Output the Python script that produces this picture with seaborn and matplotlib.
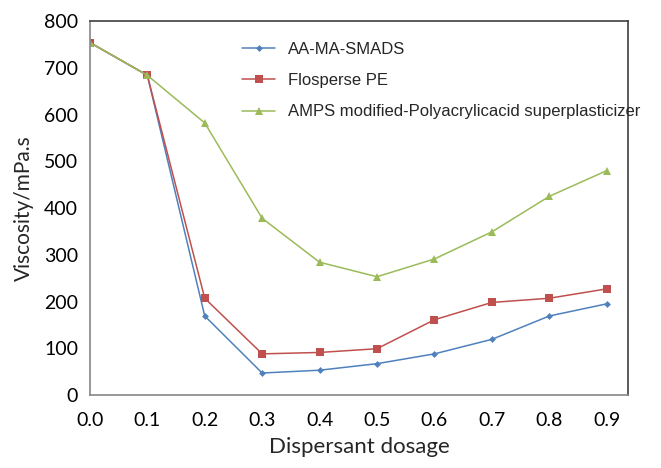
import matplotlib
matplotlib.use("Agg")
import matplotlib.pyplot as plt
import seaborn as sns
import pandas as pd

dosage = [0.0, 0.1, 0.2, 0.3, 0.4, 0.5, 0.6, 0.7, 0.8, 0.9]
aa_ma_smads = [754, 684, 169, 47, 53, 67, 88, 119, 169, 195]
flosperse_pe = [754, 684, 207, 88, 91, 99, 161, 198, 207, 227]
amps_pa = [754, 684, 582, 378, 284, 253, 291, 349, 425, 480]
series_names = ["AA-MA-SMADS", "Flosperse PE",
                "AMPS modified-Polyacrylicacid superplasticizer"]

sns.set_theme(style="white")
plt.rcParams['font.family'] = ['Lato', 'DejaVu Sans']

df = pd.DataFrame({
    "x": dosage * 3,
    "y": aa_ma_smads + flosperse_pe + amps_pa,
    "series": [series_names[0]] * 10 + [series_names[1]] * 10 + [series_names[2]] * 10,
})

colors = {series_names[0]: "#4F81BD", series_names[1]: "#C0504D", series_names[2]: "#9BBB59"}
markers = {series_names[0]: "D", series_names[1]: "s", series_names[2]: "^"}
sizes = {series_names[0]: 3.5, series_names[1]: 6, series_names[2]: 6}

fig = plt.figure(figsize=(6.61, 4.68), dpi=100)
ax = fig.add_axes([0.136, 0.156, 0.814, 0.799])

for name in series_names:
    sub = df[df.series == name]
    sns.lineplot(data=sub, x="x", y="y", ax=ax, color=colors[name], marker=markers[name],
                 markersize=sizes[name], markeredgewidth=0, linewidth=1.1, label=name)

ax.set_xlim(0, 0.937)
ax.set_ylim(0, 800)
ax.set_xticks(dosage)
ax.set_xticklabels([f"{v:.1f}" for v in dosage])
ax.set_yticks(range(0, 801, 100))
ax.tick_params(axis="both", labelsize=14, direction="out", length=5, width=1,
               color="#868686", colors="black")
ax.tick_params(axis="x", pad=7)
for s in ax.spines.values():
    s.set_color("#868686")
    s.set_linewidth(1.2)
ax.spines["top"].set_color("#404040")
ax.spines["right"].set_color("#404040")

ax.set_xlabel("Dispersant dosage", fontsize=16, labelpad=6)
ax.set_ylabel("Viscosity/mPa.s", fontsize=15)
ax.yaxis.set_label_coords(-0.104, 0.5)

leg = ax.legend(loc="upper left", bbox_to_anchor=(0.2825, 0.944), frameon=False,
                prop={"family": "Liberation Sans", "size": 12}, handlelength=2.0,
                handletextpad=0.75, labelspacing=0.97, borderpad=0, borderaxespad=0)

fig.savefig("out.png", dpi=100)
